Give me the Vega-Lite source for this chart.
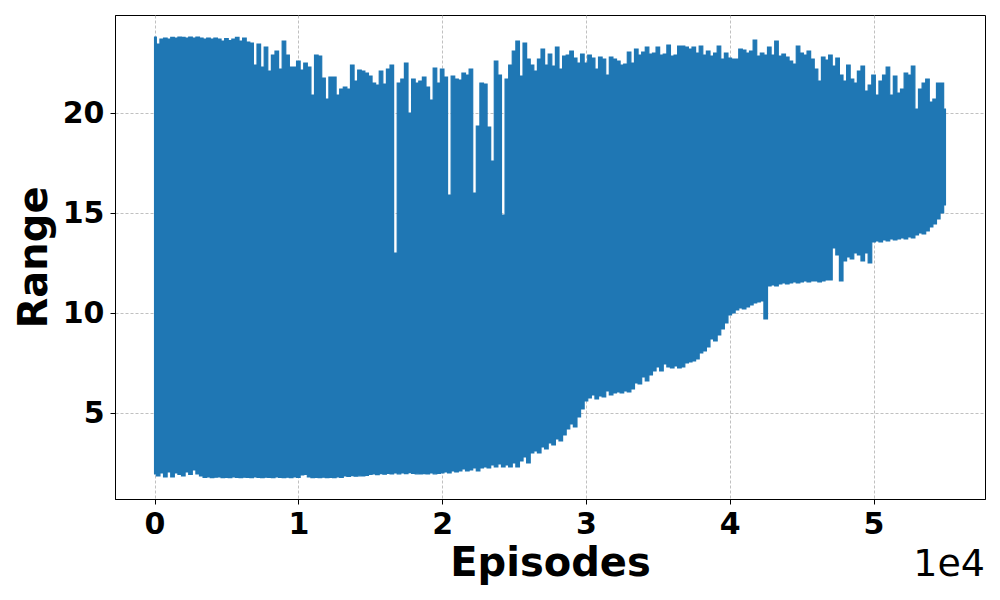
{
  "$schema": "https://vega.github.io/schema/vega-lite/v6.json",
  "width": 870,
  "height": 484,
  "autosize": {"type": "none"},
  "padding": {"left": 115, "top": 15, "right": 15, "bottom": 101},
  "background": "white",
  "title": {"text": "1e4", "orient": "bottom", "anchor": "end", "fontSize": 38, "fontWeight": "normal", "font": "DejaVu Sans", "color": "black", "offset": -37},
  "config": {
    "font": "DejaVu Sans",
    "view": {"stroke": "black", "strokeWidth": 1},
    "axis": {
      "labelFontSize": 30, "labelFontWeight": "bold", "labelColor": "black", "labelFont": "DejaVu Sans",
      "titleFontSize": 40, "titleFontWeight": "bold", "titleColor": "black", "titleFont": "DejaVu Sans",
      "tickColor": "black", "domainColor": "black", "tickSize": 5, "tickWidth": 1,
      "grid": true, "gridDash": [3, 2], "gridColor": "#b0b0b0", "gridWidth": 0.8
    }
  },
  "data": {"values": [
{"e":0,"hi":23.8,"lo":1.95},{"e":250,"hi":23.45,"lo":1.85},{"e":500,"hi":23.7,"lo":2.0},{"e":750,"hi":23.75,"lo":1.8},
{"e":1000,"hi":23.7,"lo":2.05},{"e":1250,"hi":23.78,"lo":1.8},{"e":1500,"hi":23.75,"lo":2.0},{"e":1750,"hi":23.8,"lo":1.93},
{"e":2000,"hi":23.78,"lo":1.85},{"e":2250,"hi":23.75,"lo":2.05},{"e":2500,"hi":23.8,"lo":1.93},{"e":2750,"hi":23.75,"lo":2.15},
{"e":3000,"hi":23.8,"lo":1.95},{"e":3250,"hi":23.75,"lo":1.85},{"e":3500,"hi":23.7,"lo":1.78},{"e":3750,"hi":23.75,"lo":1.8},
{"e":4000,"hi":23.7,"lo":1.77},{"e":4250,"hi":23.75,"lo":1.79},{"e":4500,"hi":23.7,"lo":1.8},{"e":4750,"hi":23.6,"lo":1.77},
{"e":5000,"hi":23.72,"lo":1.78},{"e":5250,"hi":23.62,"lo":1.77},{"e":5500,"hi":23.7,"lo":1.8},{"e":5750,"hi":23.78,"lo":1.78},
{"e":6000,"hi":23.6,"lo":1.77},{"e":6250,"hi":23.75,"lo":1.79},{"e":6500,"hi":23.55,"lo":1.78},{"e":6750,"hi":23.5,"lo":1.77},
{"e":7000,"hi":22.4,"lo":1.8},{"e":7250,"hi":23.45,"lo":1.78},{"e":7500,"hi":22.3,"lo":1.77},{"e":7750,"hi":23.3,"lo":1.79},
{"e":8000,"hi":22.1,"lo":1.78},{"e":8250,"hi":22.9,"lo":1.77},{"e":8500,"hi":23.1,"lo":1.8},{"e":8750,"hi":22.2,"lo":1.78},
{"e":9000,"hi":23.6,"lo":1.77},{"e":9250,"hi":22.9,"lo":1.79},{"e":9500,"hi":22.3,"lo":1.77},{"e":9750,"hi":22.3,"lo":1.8},
{"e":10000,"hi":22.6,"lo":1.78},{"e":10250,"hi":22.15,"lo":1.9},{"e":10500,"hi":22.5,"lo":1.93},{"e":10750,"hi":22.3,"lo":1.8},
{"e":11000,"hi":20.9,"lo":1.77},{"e":11250,"hi":22.9,"lo":1.78},{"e":11500,"hi":22.85,"lo":1.77},{"e":11750,"hi":21.75,"lo":1.79},
{"e":12000,"hi":20.7,"lo":1.77},{"e":12250,"hi":21.8,"lo":1.78},{"e":12500,"hi":21.8,"lo":1.77},{"e":12750,"hi":20.9,"lo":1.8},
{"e":13000,"hi":21.2,"lo":1.78},{"e":13250,"hi":21.3,"lo":1.85},{"e":13500,"hi":21.2,"lo":1.83},{"e":13750,"hi":22.4,"lo":1.87},
{"e":14000,"hi":21.6,"lo":1.84},{"e":14250,"hi":22.15,"lo":1.86},{"e":14500,"hi":22.1,"lo":1.85},{"e":14750,"hi":22.0,"lo":1.88},
{"e":15000,"hi":21.85,"lo":1.93},{"e":15250,"hi":21.5,"lo":1.95},{"e":15500,"hi":21.4,"lo":1.92},{"e":15750,"hi":22.1,"lo":1.97},
{"e":16000,"hi":21.45,"lo":1.94},{"e":16250,"hi":22.2,"lo":1.98},{"e":16500,"hi":22.4,"lo":1.95},{"e":16750,"hi":13.0,"lo":2.0},
{"e":17000,"hi":21.5,"lo":1.96},{"e":17250,"hi":21.7,"lo":2.0},{"e":17500,"hi":22.5,"lo":1.97},{"e":17750,"hi":20.0,"lo":2.02},
{"e":18000,"hi":21.7,"lo":1.98},{"e":18250,"hi":21.5,"lo":1.96},{"e":18500,"hi":21.6,"lo":1.95},{"e":18750,"hi":21.8,"lo":1.97},
{"e":19000,"hi":21.3,"lo":1.95},{"e":19250,"hi":20.65,"lo":2.0},{"e":19500,"hi":22.25,"lo":1.96},{"e":19750,"hi":21.5,"lo":1.98},
{"e":20000,"hi":22.2,"lo":2.0},{"e":20250,"hi":21.8,"lo":2.05},{"e":20500,"hi":15.9,"lo":2.0},{"e":20750,"hi":21.85,"lo":2.1},
{"e":21000,"hi":21.7,"lo":2.05},{"e":21250,"hi":21.65,"lo":2.1},{"e":21500,"hi":22.0,"lo":2.2},{"e":21750,"hi":21.9,"lo":2.1},
{"e":22000,"hi":22.2,"lo":2.15},{"e":22250,"hi":16.0,"lo":2.25},{"e":22500,"hi":19.35,"lo":2.1},{"e":22750,"hi":21.5,"lo":2.25},
{"e":23000,"hi":21.45,"lo":2.3},{"e":23250,"hi":19.3,"lo":2.25},{"e":23500,"hi":17.6,"lo":2.4},{"e":23750,"hi":22.6,"lo":2.3},
{"e":24000,"hi":21.9,"lo":2.45},{"e":24250,"hi":14.9,"lo":2.3},{"e":24500,"hi":21.7,"lo":2.4},{"e":24750,"hi":22.4,"lo":2.3},
{"e":25000,"hi":23.1,"lo":2.5},{"e":25250,"hi":23.6,"lo":2.3},{"e":25500,"hi":21.85,"lo":2.6},{"e":25750,"hi":23.5,"lo":2.8},
{"e":26000,"hi":22.7,"lo":2.5},{"e":26250,"hi":22.4,"lo":3.0},{"e":26500,"hi":22.1,"lo":3.1},{"e":26750,"hi":22.7,"lo":3.0},
{"e":27000,"hi":23.2,"lo":3.3},{"e":27250,"hi":22.4,"lo":3.2},{"e":27500,"hi":22.95,"lo":3.5},{"e":27750,"hi":22.35,"lo":3.4},
{"e":28000,"hi":23.3,"lo":3.7},{"e":28250,"hi":22.2,"lo":3.6},{"e":28500,"hi":22.85,"lo":3.9},{"e":28750,"hi":22.9,"lo":4.2},
{"e":29000,"hi":23.1,"lo":4.45},{"e":29250,"hi":22.75,"lo":4.3},{"e":29500,"hi":22.5,"lo":4.8},{"e":29750,"hi":22.95,"lo":5.2},
{"e":30000,"hi":22.5,"lo":5.6},{"e":30250,"hi":22.9,"lo":5.75},{"e":30500,"hi":22.75,"lo":5.9},{"e":30750,"hi":22.2,"lo":5.7},
{"e":31000,"hi":22.8,"lo":5.85},{"e":31250,"hi":22.7,"lo":5.8},{"e":31500,"hi":21.9,"lo":6.1},{"e":31750,"hi":22.8,"lo":5.9},
{"e":32000,"hi":22.7,"lo":6.0},{"e":32250,"hi":22.6,"lo":6.05},{"e":32500,"hi":22.4,"lo":6.0},{"e":32750,"hi":22.45,"lo":6.1},
{"e":33000,"hi":23.05,"lo":6.05},{"e":33250,"hi":22.5,"lo":6.2},{"e":33500,"hi":23.2,"lo":6.5},{"e":33750,"hi":22.9,"lo":6.45},
{"e":34000,"hi":23.05,"lo":6.8},{"e":34250,"hi":23.3,"lo":6.6},{"e":34500,"hi":22.95,"lo":6.9},{"e":34750,"hi":23.0,"lo":7.1},
{"e":35000,"hi":23.3,"lo":7.3},{"e":35250,"hi":22.9,"lo":7.1},{"e":35500,"hi":22.95,"lo":7.45},{"e":35750,"hi":23.4,"lo":7.3},
{"e":36000,"hi":22.85,"lo":7.25},{"e":36250,"hi":22.9,"lo":7.35},{"e":36500,"hi":23.35,"lo":7.25},{"e":36750,"hi":23.35,"lo":7.3},
{"e":37000,"hi":23.3,"lo":7.5},{"e":37250,"hi":23.2,"lo":7.55},{"e":37500,"hi":23.3,"lo":7.6},{"e":37750,"hi":23.0,"lo":7.7},
{"e":38000,"hi":23.35,"lo":8.0},{"e":38250,"hi":22.9,"lo":8.1},{"e":38500,"hi":23.1,"lo":8.3},{"e":38750,"hi":22.85,"lo":8.7},
{"e":39000,"hi":23.0,"lo":8.6},{"e":39250,"hi":23.35,"lo":8.9},{"e":39500,"hi":22.7,"lo":9.2},{"e":39750,"hi":23.0,"lo":9.5},
{"e":40000,"hi":22.75,"lo":9.9},{"e":40250,"hi":22.7,"lo":10.0},{"e":40500,"hi":22.7,"lo":10.15},{"e":40750,"hi":23.2,"lo":10.25},
{"e":41000,"hi":23.15,"lo":10.2},{"e":41250,"hi":23.0,"lo":10.3},{"e":41500,"hi":23.1,"lo":10.4},{"e":41750,"hi":23.65,"lo":10.5},
{"e":42000,"hi":22.85,"lo":10.55},{"e":42250,"hi":23.0,"lo":10.6},{"e":42500,"hi":22.9,"lo":9.7},{"e":42750,"hi":23.3,"lo":11.35},
{"e":43000,"hi":22.9,"lo":11.4},{"e":43250,"hi":23.6,"lo":11.35},{"e":43500,"hi":22.85,"lo":11.45},{"e":43750,"hi":22.95,"lo":11.5},
{"e":44000,"hi":22.8,"lo":11.45},{"e":44250,"hi":22.6,"lo":11.5},{"e":44500,"hi":22.45,"lo":11.55},{"e":44750,"hi":23.35,"lo":11.5},
{"e":45000,"hi":23.0,"lo":11.55},{"e":45250,"hi":22.9,"lo":11.6},{"e":45500,"hi":23.1,"lo":11.55},{"e":45750,"hi":22.7,"lo":11.6},
{"e":46000,"hi":22.2,"lo":11.6},{"e":46250,"hi":21.6,"lo":11.55},{"e":46500,"hi":22.8,"lo":11.6},{"e":46750,"hi":22.65,"lo":11.65},
{"e":47000,"hi":22.9,"lo":11.65},{"e":47250,"hi":22.35,"lo":13.25},{"e":47500,"hi":22.75,"lo":12.9},{"e":47750,"hi":21.9,"lo":11.6},
{"e":48000,"hi":21.6,"lo":12.6},{"e":48250,"hi":22.4,"lo":12.8},{"e":48500,"hi":21.7,"lo":12.7},{"e":48750,"hi":21.5,"lo":13.0},
{"e":49000,"hi":22.1,"lo":12.9},{"e":49250,"hi":22.35,"lo":12.6},{"e":49500,"hi":21.1,"lo":13.0},{"e":49750,"hi":21.4,"lo":12.5},
{"e":50000,"hi":21.9,"lo":13.55},{"e":50250,"hi":20.9,"lo":13.6},{"e":50500,"hi":21.6,"lo":13.55},{"e":50750,"hi":21.9,"lo":13.65},
{"e":51000,"hi":22.3,"lo":13.6},{"e":51250,"hi":20.9,"lo":13.7},{"e":51500,"hi":21.85,"lo":13.65},{"e":51750,"hi":21.0,"lo":13.7},
{"e":52000,"hi":21.2,"lo":13.75},{"e":52250,"hi":22.0,"lo":13.7},{"e":52500,"hi":21.9,"lo":13.8},{"e":52750,"hi":22.35,"lo":13.75},
{"e":53000,"hi":20.2,"lo":13.9},{"e":53250,"hi":21.2,"lo":14.0},{"e":53500,"hi":21.5,"lo":13.95},{"e":53750,"hi":21.7,"lo":14.1},
{"e":54000,"hi":20.55,"lo":14.3},{"e":54250,"hi":20.7,"lo":14.45},{"e":54500,"hi":21.5,"lo":14.7},{"e":54750,"hi":21.5,"lo":15.0},
{"e":55000,"hi":20.2,"lo":15.4}
  ]},
  "mark": {"type": "area", "color": "#1f77b4", "stroke": "#1f77b4", "strokeWidth": 1.2, "interpolate": "step", "opacity": 1},
  "encoding": {
    "x": {"field": "e", "type": "quantitative",
          "scale": {"domain": [-2750, 57750], "nice": false, "zero": false},
          "axis": {"title": "Episodes", "values": [0, 10000, 20000, 30000, 40000, 50000],
                   "labelExpr": "format(datum.value / 10000, 'd')", "labelPadding": 5, "titlePadding": 4}},
    "y": {"field": "hi", "type": "quantitative",
          "scale": {"domain": [0.7, 24.9], "nice": false, "zero": false},
          "axis": {"title": "Range", "values": [5, 10, 15, 20], "labelPadding": 6, "titlePadding": 8}},
    "y2": {"field": "lo"}
  }
}
